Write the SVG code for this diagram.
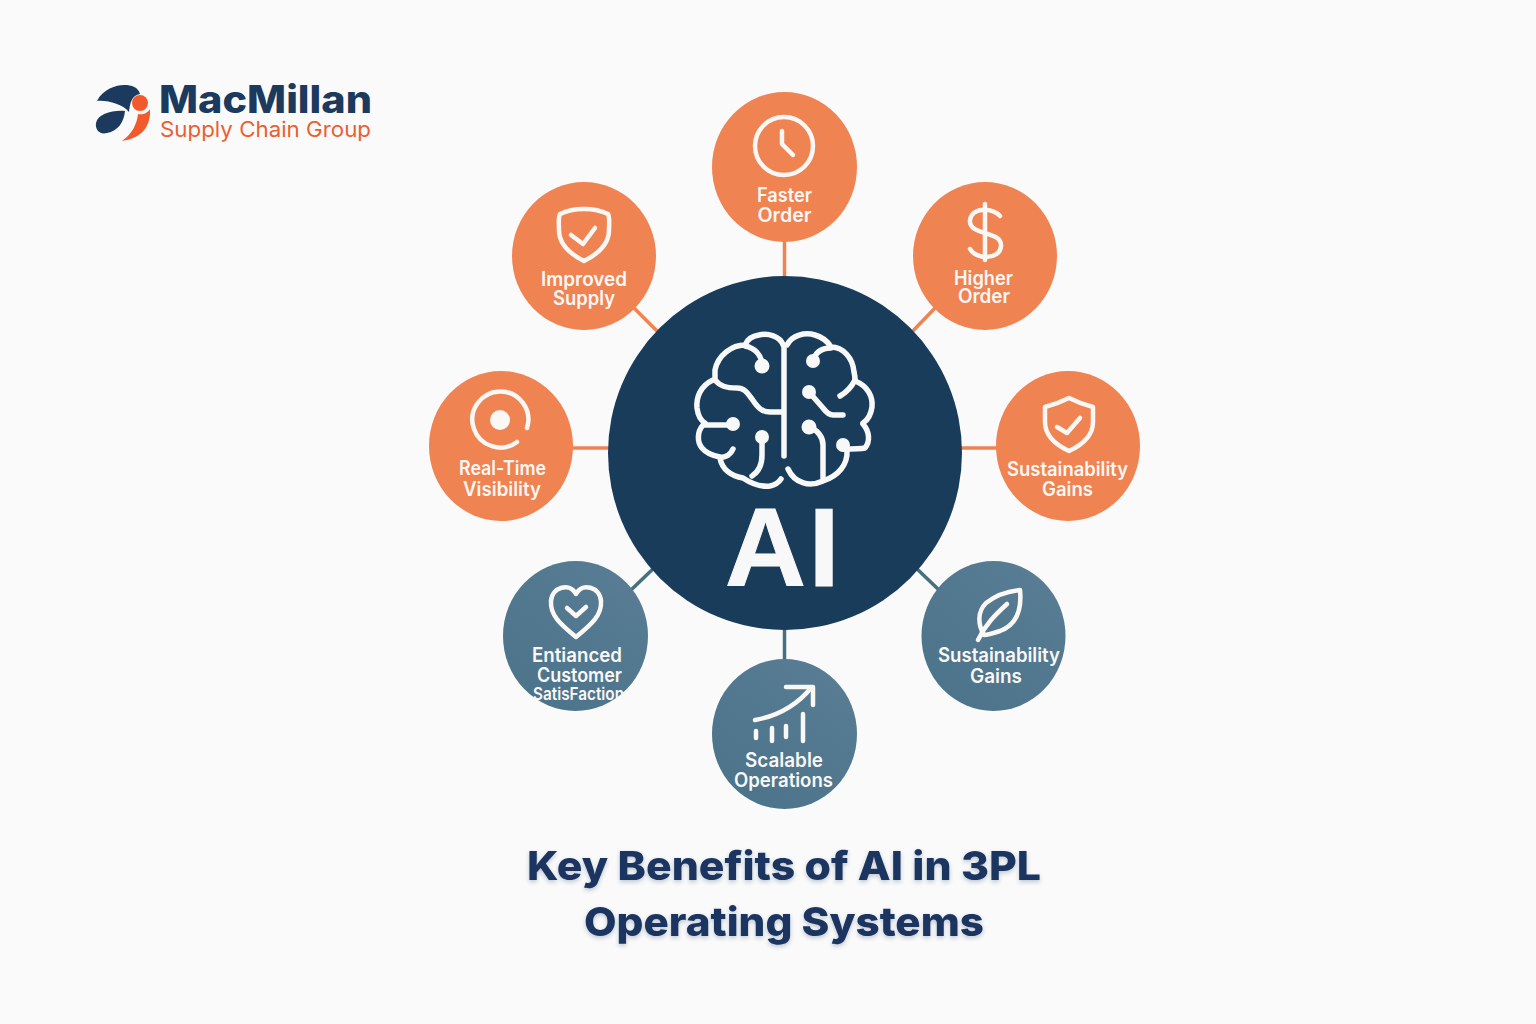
<svg xmlns="http://www.w3.org/2000/svg" width="1536" height="1024" viewBox="0 0 1536 1024">
<defs>
<linearGradient id="blueFill" x1="0.8" y1="0.1" x2="0.2" y2="0.9"><stop offset="0" stop-color="#577c93"/><stop offset="1" stop-color="#4c748b"/></linearGradient>
<filter id="soft" x="-5%" y="-20%" width="110%" height="150%"><feDropShadow dx="0" dy="2" stdDeviation="2" flood-color="#1b3660" flood-opacity="0.28"/></filter>
</defs>
<style>
text{font-family:"Inter","Liberation Sans",sans-serif}
.lb{font-size:19.500px;font-weight:600;fill:#fbf7f4;text-anchor:middle}
.o{fill:#ef8352}
.b{fill:url(#blueFill)}
.ic{fill:none;stroke:#fbf7f4;stroke-width:4.500;stroke-linecap:round;stroke-linejoin:round}
.br{fill:none;stroke:#f8f8f8;stroke-width:5.500;stroke-linecap:round;stroke-linejoin:round}
.d{fill:#f8f8f8}
.co{stroke:#ef8352;stroke-width:3.500;fill:none}
.cb{stroke:#44707f;stroke-width:3.500;fill:none}
.ti{font-size:40px;font-weight:800;fill:#1b3660;text-anchor:middle;filter:url(#soft)}
</style>
<rect width="1536" height="1024" fill="#fafafa"/>
<g id="connectors">
<line class="co" x1="784.500" y1="240" x2="784.500" y2="280"/>
<line class="co" x1="634" y1="308" x2="660" y2="334"/>
<line class="co" x1="935" y1="308" x2="910" y2="334"/>
<line class="co" x1="570" y1="448" x2="612" y2="448"/>
<line class="co" x1="958" y1="448" x2="998" y2="448"/>
<line class="cb" x1="631" y1="590" x2="655" y2="567"/>
<line class="cb" x1="939" y1="590" x2="915" y2="567"/>
<line class="cb" x1="784.500" y1="626" x2="784.500" y2="662"/>
</g>
<g id="logo">
<path d="M97 101C103 89 116 85 124 85C132 85 138 87 140 94C132 95 130 103 129 112C122 104 108 100 97 101Z" fill="#1b3a5e"/>
<path d="M125 111C124 122 118 131 107 133C99 135 95 129 96 123C98 114 112 110 125 111Z" fill="#1b3a5e"/>
<circle cx="140" cy="103" r="8" fill="#f2592b"/>
<path d="M122 141C132 134 137 124 138 114C143 115 148 113 150 109C151 125 143 138 122 141Z" fill="#f2592b"/>
<text x="159" y="113" font-size="38" font-weight="800" fill="#1b3a5e" textLength="213" lengthAdjust="spacingAndGlyphs">MacMillan</text>
<text x="160" y="137" font-size="21" font-weight="400" fill="#ea5f30" textLength="211" lengthAdjust="spacingAndGlyphs">Supply Chain Group</text>
</g>
<g id="node-faster-order">
<ellipse class="o" cx="784.500" cy="167" rx="72.500" ry="75"/>
<circle class="ic" cx="784" cy="146" r="29"/>
<path class="ic" d="M782 131V144L793 155"/>
<text class="lb" x="784.500" y="202" textLength="55" lengthAdjust="spacingAndGlyphs">Faster</text>
<text class="lb" x="784.500" y="222" textLength="54" lengthAdjust="spacingAndGlyphs">Order</text>
</g>
<g id="node-improved-supply">
<ellipse class="o" cx="584" cy="256" rx="72" ry="74"/>
<path class="ic" d="M584 209C592 209 602 211 608 214C610 218 609 225 609 230C609 245 598 254 584 261C570 254 559 245 559 230C559 225 558 218 560 214C566 211 576 209 584 209Z"/>
<path class="ic" d="M571 235L583 244L595 228"/>
<text class="lb" x="584" y="286" textLength="86" lengthAdjust="spacingAndGlyphs">Improved</text>
<text class="lb" x="584" y="305" textLength="62" lengthAdjust="spacingAndGlyphs">Supply</text>
</g>
<g id="node-higher-order">
<ellipse class="o" cx="985" cy="256" rx="72" ry="74"/>
<path class="ic" d="M1000 216C994 208 972 206 970 220C968 236 1002 230 1001 246C1000 260 976 260 970 249"/>
<path class="ic" d="M985 204V260"/>
<text class="lb" x="983.500" y="285" textLength="59" lengthAdjust="spacingAndGlyphs">Higher</text>
<text class="lb" x="984" y="303" textLength="52" lengthAdjust="spacingAndGlyphs">Order</text>
</g>
<g id="node-real-time-visibility">
<ellipse class="o" cx="501" cy="446" rx="72" ry="75"/>
<path class="ic" d="M527 428A28 28 0 1 0 517 442"/>
<circle cx="500" cy="420" r="10" fill="#fbf7f4"/>
<text class="lb" x="502.500" y="475" textLength="87" lengthAdjust="spacingAndGlyphs">Real-Time</text>
<text class="lb" x="502" y="496" textLength="78" lengthAdjust="spacingAndGlyphs">Visibility</text>
</g>
<g id="node-sustainability-gains-top">
<ellipse class="o" cx="1068" cy="446" rx="72" ry="75"/>
<path class="ic" d="M1069 398C1077 402 1085 405 1093 407L1093 422C1093 436 1082 445 1069 451C1056 445 1045 436 1045 422L1045 407C1053 405 1061 402 1069 398Z"/>
<path class="ic" d="M1057 427L1067 433L1080 418"/>
<text class="lb" x="1067.500" y="476" textLength="121" lengthAdjust="spacingAndGlyphs">Sustainability</text>
<text class="lb" x="1067.500" y="496" textLength="51" lengthAdjust="spacingAndGlyphs">Gains</text>
</g>
<g id="node-enhanced-customer-satisfaction">
<ellipse class="b" cx="575.500" cy="636" rx="72.500" ry="75"/>
<path class="ic" d="M576 637C560 624 550 615 551 601C552 587 570 582 576 594C582 582 600 587 601 601C602 615 592 624 576 637Z"/>
<path class="ic" d="M567 608L576 616L586 607"/>
<text class="lb" x="577" y="662" textLength="90" lengthAdjust="spacingAndGlyphs">Entianced</text>
<text class="lb" x="579.500" y="682" textLength="85" lengthAdjust="spacingAndGlyphs">Customer</text>
<text class="lb" x="578.500" y="700" style="font-size:17px" textLength="91" lengthAdjust="spacingAndGlyphs">SatisFaction</text>
</g>
<g id="node-sustainability-gains-bottom">
<ellipse class="b" cx="993.500" cy="636" rx="72" ry="75"/>
<path class="ic" d="M1020 590C1022 610 1016 625 1000 631C994 633 988 635 984 635C978 625 977 612 986 603C996 595 1010 591 1020 590Z"/>
<path class="ic" d="M978 640C985 625 995 615 1007 604"/>
<text class="lb" x="999" y="662" textLength="122" lengthAdjust="spacingAndGlyphs">Sustainability</text>
<text class="lb" x="996" y="683" textLength="52" lengthAdjust="spacingAndGlyphs">Gains</text>
</g>
<g id="node-scalable-operations">
<ellipse class="b" cx="784.500" cy="734" rx="72.500" ry="75"/>
<path class="ic" d="M755 720C778 716 796 706 811 688"/>
<path class="ic" d="M786 687H813V705"/>
<path class="ic" d="M756 731V738M772 728V741M786 726V737M803 714V741"/>
<text class="lb" x="784" y="767" textLength="78" lengthAdjust="spacingAndGlyphs">Scalable</text>
<text class="lb" x="783.500" y="787" textLength="99" lengthAdjust="spacingAndGlyphs">Operations</text>
</g>
<g id="node-ai">
<ellipse cx="785" cy="453" rx="177" ry="177" fill="#183c5a"/>
<path class="br" d="M783 345C780 336 768 333 759 335C752 336 747 340 745 345C732 345 718 355 715 370L715 380"/>
<path class="br" d="M745 346C755 348 761 355 762 364"/>
<path class="br" d="M715 380C720 386 726 388 737 388C745 388 748 394 752 399C758 408 762 412 770 412H782"/>
<path class="br" d="M713 380C700 386 696 398 697 408C698 416 700 420 705 423"/>
<path class="br" d="M705 425H733"/>
<path class="br" d="M703 425C697 432 697 442 702 448C707 454 714 456 720 457C726 458 731 454 733 449"/>
<path class="br" d="M720 458C722 470 732 476 743 478C752 484 762 487 770 486C775 485 779 482 781 479"/>
<path class="br" d="M752 476C760 471 762 463 762 455V438"/>
<path class="br" d="M784 345V456"/>
<path class="br" d="M787 345C792 335 805 332 815 335C822 337 828 342 831 347C843 347 853 358 854 372C855 376 855 378 855 380"/>
<path class="br" d="M813 362C815 352 822 348 831 348"/>
<path class="br" d="M855 380C851 388 847 392 840 396"/>
<path class="br" d="M855 381C868 386 873 397 872 407C871 414 868 420 863 423"/>
<path class="br" d="M863 424C870 432 870 442 865 448C860 449 850 449 843 449"/>
<path class="br" d="M847 450C848 465 838 476 823 481C810 487 795 484 788 469"/>
<path class="br" d="M823 478V445C823 436 816 430 810 427"/>
<path class="br" d="M809 392L823 408C826 412 829 415 833 415H843"/>
<circle class="d" cx="762" cy="366" r="7.500"/>
<circle class="d" cx="733" cy="424" r="7"/>
<circle class="d" cx="762" cy="437" r="7"/>
<circle class="d" cx="813" cy="361" r="7"/>
<circle class="d" cx="809" cy="392" r="7"/>
<circle class="d" cx="809" cy="427" r="7.500"/>
<circle class="d" cx="843" cy="445" r="7"/>
<text x="725" y="586" font-size="112" font-weight="700" letter-spacing="2.500" fill="#f8f8f8" stroke="#f8f8f8" stroke-width="1" style="font-family:'Liberation Sans',sans-serif">AI</text>
</g>
<g id="title">
<text class="ti" x="784" y="880" textLength="514" lengthAdjust="spacingAndGlyphs">Key Benefits of AI in 3PL</text>
<text class="ti" x="784" y="936" textLength="400" lengthAdjust="spacingAndGlyphs">Operating Systems</text>
</g>
</svg>
